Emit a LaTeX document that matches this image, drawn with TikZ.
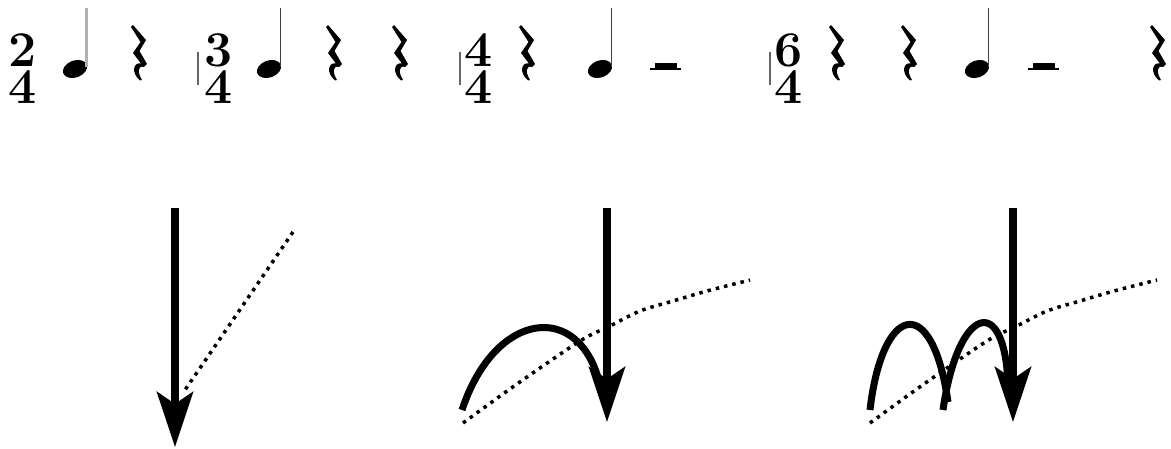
\documentclass[tikz,border=0pt]{standalone}
\usepackage{fontspec}
\usetikzlibrary{arrows.meta}
\tikzset{
  tsig/.style={font=\fontsize{50}{37}\selectfont\bfseries, inner sep=0pt, align=center, anchor=center},
  beat/.style={line width=7.5pt, -{Stealth[length=55pt,width=36pt,inset=12pt]}},
  hump/.style={line width=7pt},
  guide/.style={line width=3.5pt, dash pattern=on 3.5pt off 5pt},
  barline/.style={line width=1.5pt, black!60},
  notestem/.style={line width=1.6pt, black!75},
  qrest/.pic={
    \fill (3,0) -- (16,15) -- (9.5,26) -- (17,39) -- (14,42)
      .. controls (8,40) and (7,47) .. (12,55) -- (10,55.5)
      .. controls (1,48) and (3,37) .. (11,38.5) -- (3,28) -- (10.5,17) -- (1,2) -- cycle;
  },
  hrest/.pic={
    \fill (5,0) rectangle (27,5);
    \fill (0,5) rectangle (31,7);
  },
  qnote/.pic={
    \fill[rotate=20] (0,0) ellipse [x radius=12.5pt, y radius=8.5pt];
  }
}
\begin{document}
\begin{tikzpicture}[x=1pt,y=-1pt]
\useasboundingbox (0,0) rectangle (1171,449);
% time signatures
\node[tsig] (tsa) at (22.5,68.5) {2\\4};
\node[tsig] (tsb) at (218.5,68.5) {3\\4};
\node[tsig] (tsc) at (479,68.5) {4\\4};
\node[tsig] (tsd) at (789,68.5) {6\\4};
% barlines
\draw[barline] (198,52) -- (198,85);
\draw[barline] (460,52) -- (460,85);
\draw[barline] (770,52) -- (770,85);
% notes
\pic at (75,69) {qnote};  \draw[line width=2.5pt, black!30] (86.5,8) -- (86.5,67);
\pic at (269,69) {qnote}; \draw[notestem] (280.5,8) -- (280.5,67);
\pic at (600,69) {qnote}; \draw[notestem] (611.5,8) -- (611.5,67);
\pic at (977,69) {qnote}; \draw[notestem] (988.5,8) -- (988.5,67);
% rests
\pic at (130,25) {qrest};
\pic at (325,25) {qrest};
\pic at (391,25) {qrest};
\pic at (518,25) {qrest};
\pic at (828,25) {qrest};
\pic at (900,25) {qrest};
\pic at (1149,25) {qrest};
\pic at (650,63) {hrest};
\pic at (1028,63) {hrest};
% conducting figures
\coordinate (g1a) at (293,232); \coordinate (g1b) at (185,390);
\draw[guide] (g1a) -- (g1b);
\draw[guide] plot[smooth] coordinates {(463,423) (517,384) (580,341) (610,326) (640,311) (673,301) (707,291) (750,280)};
\draw[guide] plot[smooth] coordinates {(870,423) (924,384) (987,341) (1017,326) (1047,311) (1080,301) (1114,291) (1157,280)};
\coordinate (a1s) at (175,208); \coordinate (a1e) at (175,447);
\coordinate (a2s) at (607,208); \coordinate (a2e) at (607,422);
\coordinate (a3s) at (1013,208); \coordinate (a3e) at (1013,422);
\draw[hump] (462,410) .. controls (495,310) and (580,300) .. (600,385);
\draw[hump] (870,410) .. controls (882,305) and (932,290) .. (948,402);
\draw[hump] (943,410) .. controls (958,305) and (1005,292) .. (1008,385);
\draw[beat] (a1s) -- (a1e);
\draw[beat] (a2s) -- (a2e);
\draw[beat] (a3s) -- (a3e);
\end{tikzpicture}
\end{document}
